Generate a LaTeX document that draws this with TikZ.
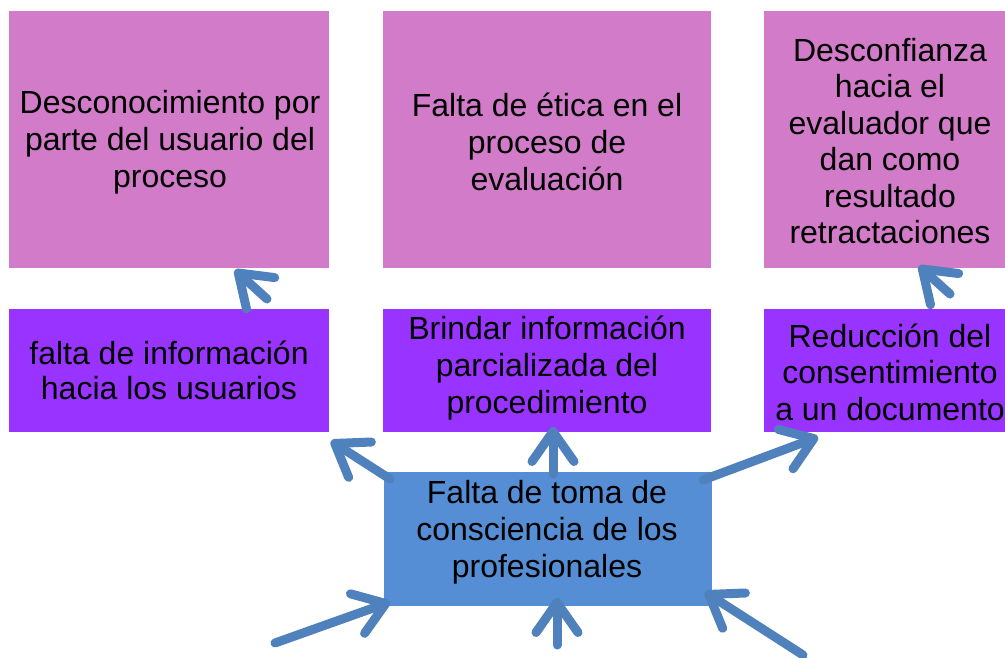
\documentclass[tikz,border=0pt]{standalone}
\usepackage{fontspec}
\setmainfont{Liberation Sans}
\usetikzlibrary{arrows.meta}
\definecolor{pinkc}{HTML}{D17BC9}
\definecolor{purplec}{HTML}{9933FF}
\definecolor{bluec}{HTML}{558ED5}
\definecolor{arrowc}{HTML}{4F81BD}
\tikzset{
  boxn/.style={draw=none, inner sep=0pt, outer sep=0pt},
  txt/.style={inner sep=0pt, align=center, text=black, font=\fontsize{32}{37}\selectfont},
  fatarrow/.style={line width=9pt, draw=arrowc, line cap=round,
    -{Straight Barb[length=30pt, width=42pt, round]},
    preaction={draw=black, draw opacity=0.18, transform canvas={shift={(2pt,-3pt)}}}}
}
\begin{document}
\begin{tikzpicture}[x=1pt,y=-1pt]
\clip (0,0) rectangle (1005,657);
\fill[white] (0,0) rectangle (1005,657);
% top row boxes
\node[boxn, fill=pinkc, minimum width=320pt, minimum height=257pt] (t1) at (169,139.5) {};
\node[boxn, fill=pinkc, minimum width=328pt, minimum height=257pt] (t2) at (547,139.5) {};
\node[boxn, fill=pinkc, minimum width=252pt, minimum height=257pt] (t3) at (890,139.5) {};
% middle row boxes
\node[boxn, fill=purplec, minimum width=320pt, minimum height=123pt] (m1) at (169,370.5) {};
\node[boxn, fill=purplec, minimum width=328pt, minimum height=123pt] (m2) at (547,370.5) {};
\node[boxn, fill=purplec, minimum width=252pt, minimum height=123pt] (m3) at (890,370.5) {};
% central box
\node[boxn, fill=bluec, minimum width=328pt, minimum height=134pt] (c) at (547.5,539) {};
% texts
\node[txt] (t1t) at (170,142) {Desconocimiento por\\parte del usuario del\\proceso};
\node[txt] (t2t) at (547,142) {Falta de ética en el\\proceso de\\evaluación};
\node[txt, font=\fontsize{32}{36.5}\selectfont] (t3t) at (890,141) {Desconfianza\\hacia el\\evaluador que\\dan como\\resultado\\retractaciones};
\node[txt, font=\fontsize{32}{35.5}\selectfont] (m1t) at (169,370.5) {falta de información\\hacia los usuarios};
\node[txt] (m2t) at (547,368) {Brindar información\\parcializada del\\procedimiento};
\node[txt, font=\fontsize{32}{36.5}\selectfont] (m3t) at (890,372) {Reducción del\\consentimiento\\a un documento};
\node[txt] (ct) at (547,532) {Falta de toma de\\consciencia de los\\profesionales};
% arrow end points
\coordinate (a1s) at (267,299); \coordinate (a1e) at (235,270);
\coordinate (a2s) at (950,294); \coordinate (a2e) at (919,266);
\coordinate (a3s) at (390,479); \coordinate (a3e) at (331,441);
\coordinate (a4s) at (553,474); \coordinate (a4e) at (553,427);
\coordinate (a5s) at (703,480); \coordinate (a5e) at (818,437);
\coordinate (a6s) at (275,643); \coordinate (a6e) at (390,602);
\coordinate (a7s) at (557,645); \coordinate (a7e) at (557,598);
\coordinate (a8s) at (803,655); \coordinate (a8e) at (705,592);
\foreach \i in {1,...,8} {\draw[fatarrow] (a\i s) -- (a\i e);}
\end{tikzpicture}
\end{document}
